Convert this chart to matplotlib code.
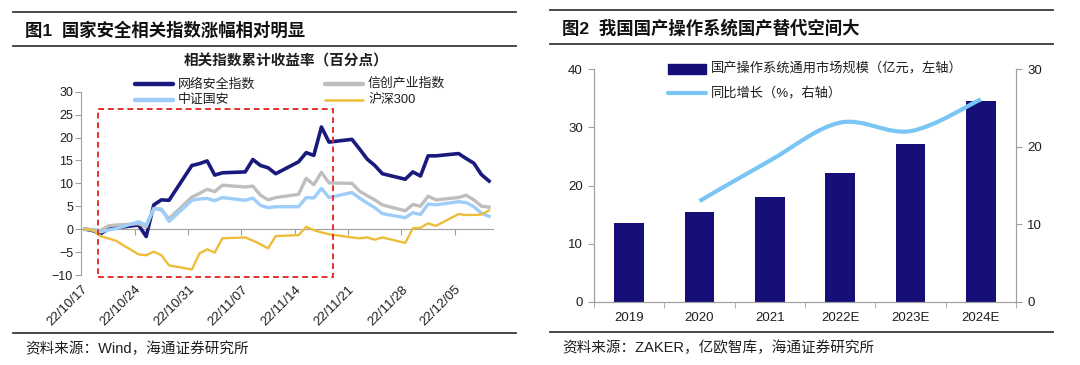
import numpy as np
import pandas as pd
import matplotlib
matplotlib.use('Agg')
import matplotlib.pyplot as plt
from matplotlib.lines import Line2D
from matplotlib.patches import Rectangle, PathPatch
from matplotlib.path import Path

plt.rcParams['font.family'] = ['Liberation Sans', 'Noto Sans CJK SC']

# ---- left chart data: cumulative return (percentage points), trading days
dates = pd.bdate_range('2022-10-17', '2022-12-09')
cyber = [0, -0.3, -1.0, 0.0, 0.3,
         0.9, -1.6, 5.3, 6.4, 6.3,
         13.9, 14.3, 14.9, 11.8, 12.3,
         12.5, 15.2, 13.9, 13.4, 12.1,
         14.7, 16.7, 16.1, 22.3, 19.0,
         19.6, 17.5, 15.3, 13.9, 12.1,
         10.9, 12.5, 11.6, 16.0, 16.0,
         16.5, 15.4, 14.4, 11.9, 10.5]
xinchuang = [0, -0.1, -0.3, 0.7, 0.9,
             1.2, 0.5, 4.5, 4.2, 2.3,
             7.0, 7.8, 8.7, 8.2, 9.6,
             9.2, 9.4, 7.4, 6.4, 6.9,
             7.6, 11.1, 9.7, 12.4, 10.1,
             10.0, 8.3, 7.3, 6.4, 5.3,
             4.0, 5.4, 5.0, 7.2, 6.4,
             6.9, 7.4, 6.4, 5.0, 4.8]
guoan = [0, -0.2, -0.6, -0.2, 0.1,
         1.6, 0.9, 4.5, 4.4, 1.7,
         6.3, 6.6, 6.7, 6.2, 6.9,
         6.3, 6.8, 5.2, 4.7, 4.9,
         4.9, 6.9, 6.8, 8.9, 6.9,
         8.0, 6.8, 5.7, 4.7, 3.4,
         2.5, 3.6, 3.2, 5.5, 5.3,
         6.0, 5.8, 4.9, 3.5, 2.8]
hs300 = [0, -0.2, -1.5, -2.0, -2.5,
         -5.5, -5.7, -4.9, -5.7, -7.9,
         -8.8, -5.3, -4.4, -5.1, -2.0,
         -1.8, -2.5, -3.3, -4.2, -1.5,
         -1.3, 0.5, -0.2, -0.7, -1.1,
         -1.8, -2.0, -1.8, -2.3, -1.8,
         -3.0, 0.2, 0.3, 1.3, 0.7,
         3.3, 3.1, 3.1, 3.2, 4.1]
tick_labels = ['22/10/17', '22/10/24', '22/10/31', '22/11/07',
               '22/11/14', '22/11/21', '22/11/28', '22/12/05']

# ---- right chart data
years = ['2019', '2020', '2021', '2022E', '2023E', '2024E']
market = [13.6, 15.4, 18.1, 22.2, 27.2, 34.5]
growth = [None, 13.0, 18.2, 23.1, 22.0, 26.1]

NAVY = '#1A1A7E'
GRAY = '#BEBEBE'
LBLUE = '#9DCDF8'
GOLD = '#EDBD3A'
BAR = '#170F78'
LINE2 = '#79C6F4'
AX = '#A0A0A0'
TXT = '#1E1E1E'

fig = plt.figure(figsize=(10.8, 3.65), dpi=100)
W, H = 1080, 365


def fx(px):
    return px / W


def fy(py):
    return 1 - py / H


def hline(x0, x1, y, lw=1.3, color='#3A3A3A'):
    fig.add_artist(Line2D([fx(x0), fx(x1)], [fy(y), fy(y)], lw=lw, color=color))


# headers / footers
hline(13, 516, 12)
hline(13, 516, 46)
hline(13, 516, 333)
hline(550, 1053, 10)
hline(550, 1053, 44)
hline(550, 1053, 332)
fig.text(fx(25), fy(30), '图1  国家安全相关指数涨幅相对明显', fontsize=12.5,
         fontweight='bold', va='center', ha='left', color='#111')
fig.text(fx(562), fy(28), '图2  我国国产操作系统国产替代空间大', fontsize=12.5,
         fontweight='bold', va='center', ha='left', color='#111')
fig.text(fx(25), fy(349), '资料来源：Wind，海通证券研究所', fontsize=10.5,
         va='center', ha='left', color=TXT)
fig.text(fx(562), fy(348), '资料来源：ZAKER，亿欧智库，海通证券研究所', fontsize=10.5,
         va='center', ha='left', color=TXT)

# ================= left chart =================
x0 = 81.4
xday = 7.62
ax = fig.add_axes([fx(x0), fy(275), fx(54 * xday), (275 - 91.7) / H])
xs = np.array((dates - dates[0]).days) + 0.5

ax.plot(xs, cyber, color=NAVY, lw=2.6, solid_joinstyle='round', zorder=3)
ax.plot(xs, xinchuang, color=GRAY, lw=2.4, solid_joinstyle='round', zorder=3)
ax.plot(xs, guoan, color=LBLUE, lw=2.4, solid_joinstyle='round', zorder=3)
ax.plot(xs, hs300, color=GOLD, lw=1.7, solid_joinstyle='round', zorder=3)

ax.set_xlim(0, 54)
ax.set_ylim(-10, 30)
ax.set_yticks(np.arange(-10, 31, 5))
ax.set_xticks(np.arange(0, 50, 7))
ax.set_xticklabels(tick_labels, rotation=45, ha='right', va='top',
                   rotation_mode='anchor', fontsize=9.5, color=TXT)
ax.tick_params(axis='x', length=0, pad=6)
ax.tick_params(axis='y', length=4, color=AX, labelsize=9, labelcolor=TXT, pad=2)
for s in ['top', 'right', 'bottom']:
    ax.spines[s].set_visible(False)
ax.spines['left'].set_color(AX)
ax.patch.set_alpha(0)

zero_ax = ax.secondary_xaxis(0.25)
zero_ax.set_xticks(np.arange(0, 50, 7))
zero_ax.tick_params(length=4, color=AX, labelbottom=False)
zero_ax.spines['bottom'].set_color(AX)
zero_ax.set_zorder(1)

ax.add_patch(Rectangle((2.2, -10.5), 30.8, 36.7, fill=False, edgecolor='#E5322B',
                       lw=1.4, ls=(0, (3, 2)), clip_on=False, zorder=4))

fig.text(fx(286), fy(61), '相关指数累计收益率（百分点）', fontsize=10.5,
         fontweight='bold', ha='center', va='center', color=TXT)

leg = [(135, 84, NAVY, 3.2, '网络安全指数'), (325, 84, GRAY, 3.2, '信创产业指数'),
       (135, 100, LBLUE, 3.2, '中证国安'), (325, 100, GOLD, 1.8, '沪深300')]
for lx, ly, c, lw, lab in leg:
    fig.add_artist(Line2D([fx(lx), fx(lx + 38)], [fy(ly), fy(ly)], color=c, lw=lw,
                          solid_capstyle='round'))
    fig.text(fx(lx + 43), fy(ly), lab, fontsize=9.3, va='center', ha='left', color=TXT)

# ================= right chart =================
rl, rr = 594, 1016
ax1 = fig.add_axes([fx(rl), fy(302), fx(rr - rl), (302 - 69) / H])
xi = np.arange(len(years))
ax1.bar(xi, market, width=0.42, color=BAR, zorder=2)
ax1.set_xlim(-0.5, len(years) - 0.5)
ax1.set_ylim(0, 40)
ax1.set_yticks([0, 10, 20, 30, 40])
ax1.set_xticks(xi)
ax1.set_xticklabels(years, fontsize=9.5, color=TXT)
ax1.set_xticks(np.arange(-0.5, len(years), 1), minor=True)
ax1.tick_params(axis='x', which='major', length=0, pad=7)
ax1.tick_params(axis='x', which='minor', length=4, color=AX)
ax1.tick_params(axis='y', length=4, color=AX, labelsize=9.5, labelcolor=TXT, pad=4)
ax1.spines['top'].set_visible(False)
for s in ['left', 'right', 'bottom']:
    ax1.spines[s].set_color(AX)

ax2 = ax1.twinx()
ax2.set_ylim(0, 30)
ax2.set_yticks([0, 10, 20, 30])
ax2.tick_params(axis='y', length=4, color=AX, labelsize=9.5, labelcolor=TXT, pad=4)
ax2.spines['top'].set_visible(False)
for s in ['left', 'right', 'bottom']:
    ax2.spines[s].set_color(AX)

# smoothed growth line (Catmull-Rom through the data points)
pts = np.array([(i, g) for i, g in enumerate(growth) if g is not None], dtype=float)
verts = [tuple(pts[0])]
codes = [Path.MOVETO]
n = len(pts)
for k in range(n - 1):
    p0 = pts[max(k - 1, 0)]
    p1 = pts[k]
    p2 = pts[k + 1]
    p3 = pts[min(k + 2, n - 1)]
    c1 = p1 + (p2 - p0) / 6
    c2 = p2 - (p3 - p1) / 6
    verts += [tuple(c1), tuple(c2), tuple(p2)]
    codes += [Path.CURVE4] * 3
ax2.add_patch(PathPatch(Path(verts, codes), fill=False, edgecolor=LINE2, lw=3,
                        capstyle='butt', zorder=3))

fig.add_artist(Rectangle((fx(668), fy(74)), fx(38), 10 / H, color=BAR))
fig.text(fx(711), fy(69), '国产操作系统通用市场规模（亿元，左轴）', fontsize=9.5,
         va='center', ha='left', color=TXT)
fig.add_artist(Line2D([fx(668), fx(706)], [fy(93), fy(93)], color=LINE2, lw=3,
                      solid_capstyle='round'))
fig.text(fx(711), fy(93), '同比增长（%，右轴）', fontsize=9.5,
         va='center', ha='left', color=TXT)

fig.savefig('out.png', dpi=100)
